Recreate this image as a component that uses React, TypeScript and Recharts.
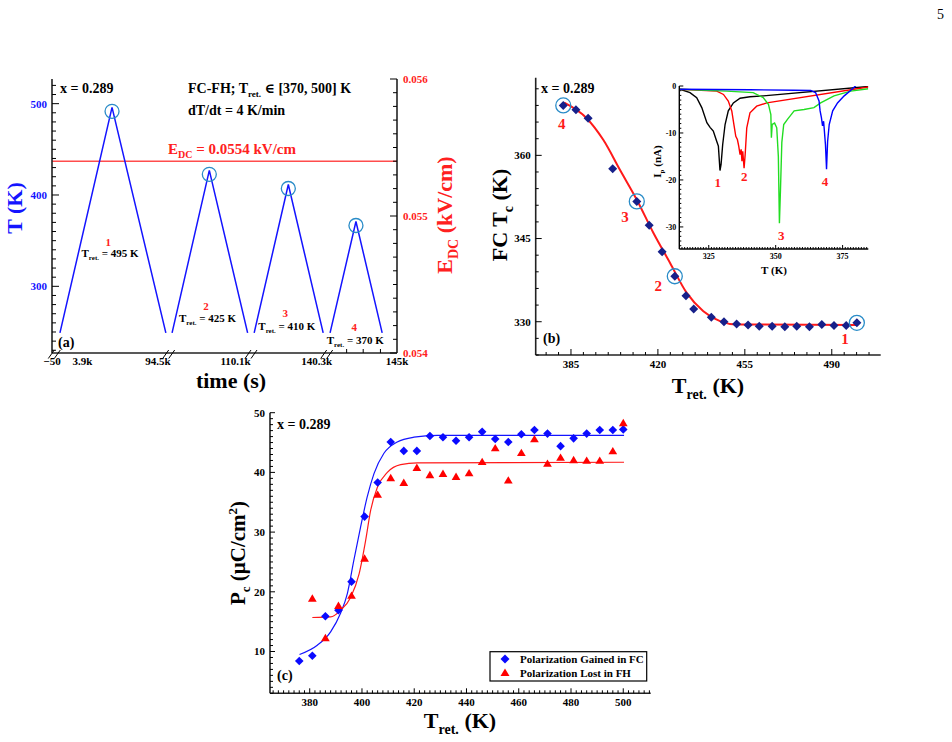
import React from 'react';
import { ComposedChart, Line, Scatter, XAxis, YAxis, ReferenceLine } from 'recharts';

const SERIF = '"Liberation Serif", "DejaVu Serif", serif';
const BLUE = '#1414ff';
const RED = '#ff1a1a';
const RING = '#2a8cc8';
const FRAME = '#222';

// ---- (a) FC-FH cycles; x is the position along the broken time axis (0..100)
const cycleStart = [2.3, 34.8, 58.6, 80.6];
const cyclePeak = [17.4, 45.6, 68.5, 88.1];
const cycleEnd = [33.0, 56.7, 78.6, 95.7];
const cyclePeakT = [496, 427, 411.5, 371];
const cycleBaseT = 249;
const edcValue = 0.0554;
const timeTickPos = [0, 8.8, 30.7, 53.2, 76.7, 100];
const timeTickLabels = ['\u221250', '3.9k', '94.5k', '110.1k', '140.3k', '145k'];
const timeMinorPos = [85.4, 90.2, 95.2];

// ---- (b) FC Tc vs Tret
const tretB = [381.9, 387.0, 391.9, 401.8, 411.5, 416.5, 421.7, 426.8, 431.3, 434.4, 441.5, 446.6,
  451.7, 456.3, 460.8, 466.0, 471.1, 475.9, 481.0, 486.0, 490.9, 495.8, 500.1];
const tcB = [369.0, 368.2, 366.7, 357.6, 351.7, 347.4, 342.6, 338.2, 334.7, 332.3, 330.8, 330.0,
  329.6, 329.4, 329.2, 329.2, 329.1, 329.2, 329.1, 329.5, 329.3, 329.3, 329.8];
const circledB = [0, 4, 7, 22];
const fitTretB = [382.3, 391.3, 398.0, 404.7, 411.5, 418.2, 424.9, 431.6, 438.3, 445.0, 451.7, 500.1];
const fitTcB = [369.5, 366.7, 362.8, 357.4, 352.0, 346.0, 340.6, 335.2, 331.9, 330.1, 329.5, 329.4];

// ---- (b) inset: pyroelectric current Ip (nA) vs T (K), [T, Ip]
const ipCurve1 = [[314.3, -0.7], [318, -1.4], [320.5, -2.5], [322.4, -4.6], [324.3, -7.8], [325.5, -8.8],
  [326.7, -9.6], [328, -11.8], [328.6, -12.8], [329.2, -18], [329.6, -16.7], [330.2, -12.5], [331.1, -8.2],
  [332.3, -5.3], [334.2, -3.6], [336.7, -2.6], [340.4, -2.3], [345.4, -2.1], [384.6, -0.1]];
const ipCurve2 = [[314.3, -0.7], [328, -1.1], [330.5, -1.8], [332.3, -3.2], [333.6, -5.3], [334.4, -8.2],
  [335.1, -10.7], [335.7, -11.4], [336.2, -12.8], [336.7, -14.6], [337.1, -13.5], [337.4, -16], [337.7, -13.9],
  [338.2, -17.5], [338.6, -14.6], [339.2, -8.9], [340.4, -5.7], [342.9, -4.3], [346.7, -3.6], [384.6, -0.2]];
const ipCurve3 = [[314.3, -0.7], [331.7, -1.1], [341.6, -1.4], [345.4, -2.5], [347.3, -3.9], [348.2, -6.1],
  [348.4, -11], [348.7, -8.2], [349.6, -7.9], [350.4, -8.9], [351, -15], [351.4, -29.2], [351.8, -22],
  [352.3, -12], [353, -8.2], [354.4, -7.1], [356.9, -5.3], [360.6, -5], [364.3, -4.6], [366.8, -3.6],
  [371.8, -2.1], [378, -1.1], [384.6, -0.6]];
const ipCurve4 = [[314.3, -0.7], [340.4, -0.8], [356.9, -0.9], [363.1, -0.95], [364.9, -1.4], [366.2, -3.2],
  [366.6, -5.3], [367.1, -6.8], [367.5, -8.5], [367.9, -7.5], [368.1, -8.9], [368.6, -12.5], [369, -17.7],
  [369.4, -11.8], [370, -8.2], [371.3, -5.3], [373.1, -3.6], [375.6, -2.1], [378.1, -0.9], [380, 0.1]];

// ---- (c) Pc vs Tret
const tretGained = [376, 381, 386, 391, 396, 401, 406, 411, 416, 421, 426, 431, 436, 441, 446, 451, 456,
  461, 466, 471, 476, 481, 486, 491, 496, 500];
const pGained = [8.4, 9.3, 15.9, 16.9, 21.7, 32.6, 38.3, 45.1, 43.6, 43.6, 46.1, 45.9, 45.3, 45.9, 46.8,
  45.6, 45.1, 46.4, 47.1, 46.5, 44.4, 45.7, 46.5, 47.1, 47.1, 47.2];
const tretLost = [381, 386, 391, 396, 401, 406, 411, 416, 421, 426, 431, 436, 441, 446, 451, 456, 461,
  466, 471, 476, 481, 486, 491, 496, 500];
const pLost = [18.8, 12.2, 17.6, 19.3, 25.5, 36.2, 39.0, 38.2, 40.7, 39.5, 39.7, 39.2, 39.8, 41.7, 44.0,
  38.6, 43.2, 45.5, 41.4, 42.4, 42.0, 41.9, 41.9, 43.5, 48.2];
const fitTretGained = [376.1, 382.9, 388.0, 391.8, 394.4, 396.9, 399.5, 402.0, 404.6, 408.4, 413.5, 419.9, 428.8, 500.3];
const fitPGained = [9.5, 11.05, 13.3, 16.4, 19.7, 25.3, 30.9, 35.9, 39.8, 43.2, 45.1, 45.9, 46.2, 46.2];
const fitTretLost = [381.0, 388.0, 391.8, 395.7, 398.9, 401.4, 403.3, 405.9, 409.7, 414.8, 421.2, 500.3];
const fitPLost = [15.7, 15.8, 16.9, 19.1, 23.0, 28.6, 33.6, 37.5, 40.0, 41.3, 41.6, 41.7];

const range = (a: number, b: number, s: number) => {
  const out: number[] = [];
  for (let v = a; v <= b + 1e-9; v += s) out.push(Math.round(v * 1e6) / 1e6);
  return out;
};
const onStep = (v: number, base: number, step: number) =>
  Math.abs((v - base) / step - Math.round((v - base) / step)) < 1e-6;

type TickCfg = {
  side: 'left' | 'right' | 'bottom';
  major: (v: number) => boolean;
  fmt?: (v: number) => string;
  color?: string;
  font?: number;
  majorLen?: number;
  minorLen?: number;
  gap?: number;
  lineOnMajor?: boolean;
};

// ticks drawn inward, labels outside
function inTick(c: TickCfg) {
  return (p: any) => {
    const v = p.payload.value as number;
    const isMaj = c.major(v);
    const len = isMaj ? c.majorLen ?? 6 : c.minorLen ?? 3;
    const showLine = !(isMaj && c.lineOnMajor === false);
    const label = isMaj && c.fmt ? c.fmt(v) : '';
    const gap = c.gap ?? 5;
    const fs = c.font ?? 11;
    const txt = { fontFamily: SERIF, fontWeight: 700, fontSize: fs, fill: c.color ?? '#000' };
    if (c.side === 'bottom') {
      return (
        <g>
          {showLine && <line x1={p.x} x2={p.x} y1={p.y} y2={p.y - len} stroke="#000" strokeWidth={1} />}
          {label && <text x={p.x} y={p.y + gap + fs * 0.72} textAnchor="middle" {...txt}>{label}</text>}
        </g>
      );
    }
    const dir = c.side === 'left' ? 1 : -1;
    return (
      <g>
        {showLine && <line x1={p.x} x2={p.x + dir * len} y1={p.y} y2={p.y} stroke="#000" strokeWidth={1} />}
        {label && (
          <text x={p.x - dir * gap} y={p.y + fs * 0.35} textAnchor={dir > 0 ? 'end' : 'start'} {...txt}>{label}</text>
        )}
      </g>
    );
  };
}

const ring = (r: number, dy = 0) => (p: any) =>
  <circle cx={p.cx} cy={p.cy + dy} r={r} fill="none" stroke={RING} strokeWidth={1.3} />;
const diamond = (h: number, color: string) => (p: any) =>
  <polygon points={`${p.cx},${p.cy - h} ${p.cx + h},${p.cy} ${p.cx},${p.cy + h} ${p.cx - h},${p.cy}`} fill={color} />;
const triangle = (h: number, color: string) => (p: any) =>
  <polygon points={`${p.cx},${p.cy - h} ${p.cx + h * 0.95},${p.cy + h * 0.6} ${p.cx - h * 0.95},${p.cy + h * 0.6}`} fill={color} />;

const frameLine = { stroke: FRAME, strokeWidth: 1.6 };

function PanelA() {
  const cycles = cycleStart.map((s, i) => [
    { x: s, T: cycleBaseT },
    { x: cyclePeak[i], T: cyclePeakT[i] },
    { x: cycleEnd[i], T: cycleBaseT },
  ]);
  const peaks = cyclePeak.map((x, i) => ({ x, T: cyclePeakT[i] }));
  const timeTicks = [...timeTickPos, ...timeMinorPos].sort((a, b) => a - b);
  return (
    <div style={{ position: 'absolute', left: 0, top: 60 }}>
      <ComposedChart width={470} height={340} margin={{ top: 19, right: 0, bottom: 0, left: 0 }}>
        <XAxis xAxisId="t" type="number" dataKey="x" domain={[0, 100]} allowDataOverflow
          ticks={timeTicks} interval={0} tickSize={0} tickMargin={0} tickLine={false} height={47}
          axisLine={frameLine}
          tick={inTick({
            side: 'bottom', lineOnMajor: false, gap: 4, minorLen: 4,
            major: (v) => timeTickPos.includes(v),
            fmt: (v) => timeTickLabels[timeTickPos.indexOf(v)],
          })} />
        <XAxis xAxisId="top" orientation="top" type="number" domain={[0, 1]} height={0}
          tick={false} tickLine={false} axisLine={frameLine} />
        <YAxis yAxisId="T" type="number" dataKey="T" domain={[227, 527]} allowDataOverflow width={52}
          ticks={range(230, 520, 10)} interval={0} tickSize={0} tickMargin={0} tickLine={false}
          axisLine={frameLine}
          tick={inTick({ side: 'left', color: BLUE, major: (v) => onStep(v, 0, 100), fmt: (v) => String(v), majorLen: 7, minorLen: 4 })} />
        <YAxis yAxisId="E" orientation="right" type="number" domain={[0.054, 0.056]} allowDataOverflow width={73}
          ticks={range(0.054, 0.056, 0.0001)} interval={0} tickSize={0} tickMargin={0} tickLine={false}
          axisLine={frameLine}
          tick={inTick({ side: 'right', color: '#ff2020', major: (v) => onStep(v, 0, 0.001), fmt: (v) => v.toFixed(3), majorLen: 7, minorLen: 4, gap: 6 })} />
        <ReferenceLine xAxisId="t" yAxisId="E" y={edcValue} stroke="#ff4d4d" strokeWidth={1.5} />
        {cycles.map((d, i) => (
          <Line key={i} xAxisId="t" yAxisId="T" data={d} dataKey="T" type="linear" stroke={BLUE}
            strokeWidth={1.5} dot={false} isAnimationActive={false} />
        ))}
        <Scatter xAxisId="t" yAxisId="T" data={peaks} dataKey="T" shape={ring(7, 4)} isAnimationActive={false} />
      </ComposedChart>
    </div>
  );
}

function PanelB() {
  const pts = tretB.map((T, i) => ({ T, Tc: tcB[i] }));
  const fit = fitTretB.map((T, i) => ({ T, Tc: fitTcB[i] }));
  const circled = circledB.map((i) => pts[i]);
  return (
    <div style={{ position: 'absolute', left: 470, top: 60 }}>
      <ComposedChart width={420} height={340} margin={{ top: 17.7, right: 9.3, bottom: 0, left: 0 }}>
        <XAxis type="number" dataKey="T" domain={[370.8, 509.7]} allowDataOverflow height={45}
          ticks={range(375, 505, 5)} interval={0} tickSize={0} tickMargin={0} tickLine={false}
          axisLine={frameLine}
          tick={inTick({ side: 'bottom', major: (v) => onStep(v, 385, 35), fmt: (v) => String(v), gap: 5, majorLen: 6, minorLen: 3 })} />
        <XAxis xAxisId="top" orientation="top" type="number" domain={[0, 1]} height={0}
          tick={false} tickLine={false} axisLine={frameLine} />
        <YAxis type="number" dataKey="Tc" domain={[324, 374]} allowDataOverflow width={65.7}
          ticks={range(324, 372, 3)} interval={0} tickSize={0} tickMargin={0} tickLine={false}
          axisLine={frameLine}
          tick={inTick({ side: 'left', major: (v) => onStep(v, 330, 15), fmt: (v) => String(v), majorLen: 6, minorLen: 3 })} />
        <YAxis yAxisId="frame" orientation="right" type="number" domain={[0, 1]} width={0}
          tick={false} tickLine={false} axisLine={frameLine} />
        <Line data={fit} dataKey="Tc" type="monotone" stroke={RED} strokeWidth={2} dot={false} isAnimationActive={false} />
        <Scatter data={pts} dataKey="Tc" shape={diamond(4.5, '#17208a')} isAnimationActive={false} />
        <Scatter data={circled} dataKey="Tc" shape={ring(7.5)} isAnimationActive={false} />
      </ComposedChart>
    </div>
  );
}

function Inset() {
  const toData = (c: number[][]) => c.map(([T, I]) => ({ T, I }));
  const curves = [
    { d: toData(ipCurve1), c: '#000000' },
    { d: toData(ipCurve2), c: '#ff0000' },
    { d: toData(ipCurve3), c: '#22dd22' },
    { d: toData(ipCurve4), c: '#0000ff' },
  ];
  return (
    <div style={{ position: 'absolute', left: 630, top: 80 }}>
      <ComposedChart width={240} height={190} margin={{ top: 6, right: 1.7, bottom: 0, left: 0 }}>
        <XAxis type="number" dataKey="T" domain={[314, 384.6]} allowDataOverflow height={21}
          ticks={range(315, 384, 1)} interval={0} tickSize={0} tickMargin={0} tickLine={false}
          axisLine={{ stroke: '#000', strokeWidth: 1.4 }}
          tick={inTick({ side: 'bottom', font: 8, gap: 4, major: (v) => onStep(v, 325, 25), fmt: (v) => String(v), majorLen: 4, minorLen: 2 })} />
        <XAxis xAxisId="top" orientation="top" type="number" domain={[0, 1]} height={0}
          tick={false} tickLine={false} axisLine={{ stroke: '#000', strokeWidth: 1.4 }} />
        <YAxis type="number" dataKey="I" domain={[-34.7, 0]} allowDataOverflow width={49.3}
          ticks={range(-34, 0, 1)} interval={0} tickSize={0} tickMargin={0} tickLine={false}
          axisLine={{ stroke: '#000', strokeWidth: 1.4 }}
          tick={inTick({ side: 'left', font: 8, gap: 3, major: (v) => onStep(v, 0, 10), fmt: (v) => String(v), majorLen: 4, minorLen: 2 })} />
        <YAxis yAxisId="frame" orientation="right" type="number" domain={[0, 1]} width={0}
          tick={false} tickLine={false} axisLine={{ stroke: '#000', strokeWidth: 1.4 }} />
        {curves.map((c, i) => (
          <Line key={i} data={c.d} dataKey="I" type="linear" stroke={c.c} strokeWidth={1.4}
            dot={false} isAnimationActive={false} />
        ))}
      </ComposedChart>
    </div>
  );
}

function PanelC() {
  const gained = tretGained.map((T, i) => ({ T, P: pGained[i] }));
  const lost = tretLost.map((T, i) => ({ T, P: pLost[i] }));
  const fitG = fitTretGained.map((T, i) => ({ T, P: fitPGained[i] }));
  const fitL = fitTretLost.map((T, i) => ({ T, P: fitPLost[i] }));
  return (
    <div style={{ position: 'absolute', left: 230, top: 400 }}>
      <ComposedChart width={430} height={342} margin={{ top: 12.7, right: 9.3, bottom: 0, left: 0 }}>
        <XAxis type="number" dataKey="T" domain={[364.8, 510.5]} allowDataOverflow height={48.7}
          ticks={range(366, 510, 2)} interval={0} tickSize={0} tickMargin={0} tickLine={false}
          axisLine={frameLine}
          tick={inTick({ side: 'bottom', major: (v) => onStep(v, 0, 20), fmt: (v) => String(v), gap: 5, majorLen: 5, minorLen: 3 })} />
        <XAxis xAxisId="top" orientation="top" type="number" domain={[0, 1]} height={0}
          tick={false} tickLine={false} axisLine={frameLine} />
        <YAxis type="number" dataKey="P" domain={[3, 50]} allowDataOverflow width={40}
          ticks={range(3, 50, 1)} interval={0} tickSize={0} tickMargin={0} tickLine={false}
          axisLine={frameLine}
          tick={inTick({ side: 'left', major: (v) => onStep(v, 0, 10), fmt: (v) => String(v), majorLen: 5, minorLen: 3 })} />
        <YAxis yAxisId="frame" orientation="right" type="number" domain={[0, 1]} width={0}
          tick={false} tickLine={false} axisLine={frameLine} />
        <Line data={fitG} dataKey="P" type="monotone" stroke={BLUE} strokeWidth={1.2} dot={false} isAnimationActive={false} />
        <Line data={fitL} dataKey="P" type="monotone" stroke={RED} strokeWidth={1.2} dot={false} isAnimationActive={false} />
        <Scatter data={gained} dataKey="P" shape={diamond(4.3, '#0a0aff')} isAnimationActive={false} />
        <Scatter data={lost} dataKey="P" shape={triangle(4.6, '#ff0000')} isAnimationActive={false} />
      </ComposedChart>
    </div>
  );
}

function Sub({ x, y, base, sub, after, size, subSize, color = '#000', anchor = 'start', dy = 4 }: any) {
  return (
    <text x={x} y={y} fontFamily={SERIF} fontWeight={700} fontSize={size} fill={color} textAnchor={anchor}>
      {base}
      <tspan fontSize={subSize} dy={dy}>{sub}</tspan>
      <tspan dy={-dy}>{after}</tspan>
    </text>
  );
}

function Overlay() {
  const b = { fontFamily: SERIF, fontWeight: 700 };
  const breaks = [48.3, 162.7, 245, 320.7];
  return (
    <svg width={952} height={742} style={{ position: 'absolute', left: 0, top: 0, pointerEvents: 'none' }}>
      <text x={944} y={19} fontFamily={SERIF} fontSize={14} textAnchor="end">5</text>

      {/* (a) */}
      <text x={60} y={93} fontSize={14} {...b}>x = 0.289</text>
      <Sub x={188} y={93} size={14} subSize={9} base="FC-FH; T" sub="ret." after={' \u2208 [370, 500] K'} />
      <text x={188} y={115} fontSize={14} {...b}>dT/dt = 4 K/min</text>
      <Sub x={168} y={154} size={15} subSize={10} color="#ff2020" base="E" sub="DC" after=" = 0.0554 kV/cm" />
      <text x={108.3} y={245.5} fontSize={11} fill="#ff2020" textAnchor="middle" {...b}>1</text>
      <Sub x={81.5} y={257} size={11} subSize={7} dy={3} base="T" sub="ret." after=" = 495 K" />
      <text x={206} y={310} fontSize={11} fill="#ff2020" textAnchor="middle" {...b}>2</text>
      <Sub x={179} y={322} size={11} subSize={7} dy={3} base="T" sub="ret." after=" = 425 K" />
      <text x={285.3} y={317} fontSize={11} fill="#ff2020" textAnchor="middle" {...b}>3</text>
      <Sub x={258.3} y={330} size={11} subSize={7} dy={3} base="T" sub="ret." after=" = 410 K" />
      <text x={354.3} y={331} fontSize={11} fill="#ff2020" textAnchor="middle" {...b}>4</text>
      <Sub x={326.7} y={344} size={11} subSize={7} dy={3} base="T" sub="ret." after=" = 370 K" />
      <text x={58} y={347} fontSize={14} {...b}>(a)</text>
      {breaks.map((x0, i) => (
        <g key={i} stroke="#000" strokeWidth={1}>
          <line x1={x0} y1={358.5} x2={x0 + 6} y2={350} />
          <line x1={x0 + 6} y1={358.5} x2={x0 + 12} y2={350} />
        </g>
      ))}
      <text x={231} y={388} fontSize={22} textAnchor="middle" {...b}>time (s)</text>
      <text transform="rotate(-90 22 208)" x={22} y={208} fontSize={22} fill={BLUE} textAnchor="middle" {...b}>T (K)</text>
      <g transform="rotate(-90 452 215)">
        <Sub x={452} y={215} size={22} subSize={14} dy={6} color="#ff2020" anchor="middle" base="E" sub="DC" after=" (kV/cm)" />
      </g>

      {/* (b) */}
      <text x={541} y={93} fontSize={14} {...b}>x = 0.289</text>
      <text x={543} y={343} fontSize={14} {...b}>(b)</text>
      <text x={561.7} y={128.5} fontSize={15} fill={RED} textAnchor="middle" {...b}>4</text>
      <text x={625} y={222} fontSize={15} fill={RED} textAnchor="middle" {...b}>3</text>
      <text x={658.3} y={291} fontSize={15} fill={RED} textAnchor="middle" {...b}>2</text>
      <text x={845} y={343.5} fontSize={15} fill={RED} textAnchor="middle" {...b}>1</text>
      <g transform="rotate(-90 507 215)">
        <Sub x={507} y={215} size={22} subSize={14} dy={6} anchor="middle" base="FC T" sub="c" after=" (K)" />
      </g>
      <Sub x={708} y={393} size={22} subSize={14} dy={6} anchor="middle" base="T" sub="ret." after=" (K)" />

      {/* inset */}
      <text x={717.7} y={187} fontSize={13} fill={RED} textAnchor="middle" {...b}>1</text>
      <text x={744.3} y={181} fontSize={13} fill={RED} textAnchor="middle" {...b}>2</text>
      <text x={781.3} y={240} fontSize={13} fill={RED} textAnchor="middle" {...b}>3</text>
      <text x={825} y={185.5} fontSize={13} fill={RED} textAnchor="middle" {...b}>4</text>
      <text x={774} y={274} fontSize={11} textAnchor="middle" {...b}>T (K)</text>
      <g transform="rotate(-90 661 161.5)">
        <Sub x={661} y={161.5} size={11} subSize={7} dy={3} anchor="middle" base="I" sub="p" after=" (nA)" />
      </g>

      {/* (c) */}
      <text x={277} y={429} fontSize={14} {...b}>x = 0.289</text>
      <text x={277} y={680} fontSize={14} {...b}>(c)</text>
      <g transform="rotate(-90 245 553)">
        <text x={245} y={553} fontSize={21} textAnchor="middle" {...b}>
          P<tspan fontSize={13} dy={5}>c</tspan>
          <tspan dy={-5}> ({'\u03bc'}C/cm</tspan>
          <tspan fontSize={13} dy={-8}>2</tspan>
          <tspan dy={8}>)</tspan>
        </text>
      </g>
      <Sub x={460} y={728} size={22} subSize={14} dy={6} anchor="middle" base="T" sub="ret." after=" (K)" />
      <rect x={490} y={651.7} width={156.7} height={29.3} fill="#fff" stroke="#000" strokeWidth={1.2} />
      <polygon points="505,654.5 509.5,659 505,663.5 500.5,659" fill="#0a0aff" />
      <polygon points="505,668.5 509.5,676 500.5,676" fill="#ff0000" />
      <text x={520} y={662.8} fontSize={11} {...b}>Polarization Gained in FC</text>
      <text x={520} y={676.8} fontSize={11} {...b}>Polarization Lost in FH</text>
    </svg>
  );
}

export default function App() {
  return (
    <div style={{ position: 'absolute', left: 0, top: 0, width: 952, height: 742, background: '#fff', fontFamily: SERIF }}>
      <PanelA />
      <PanelB />
      <Inset />
      <PanelC />
      <Overlay />
    </div>
  );
}
